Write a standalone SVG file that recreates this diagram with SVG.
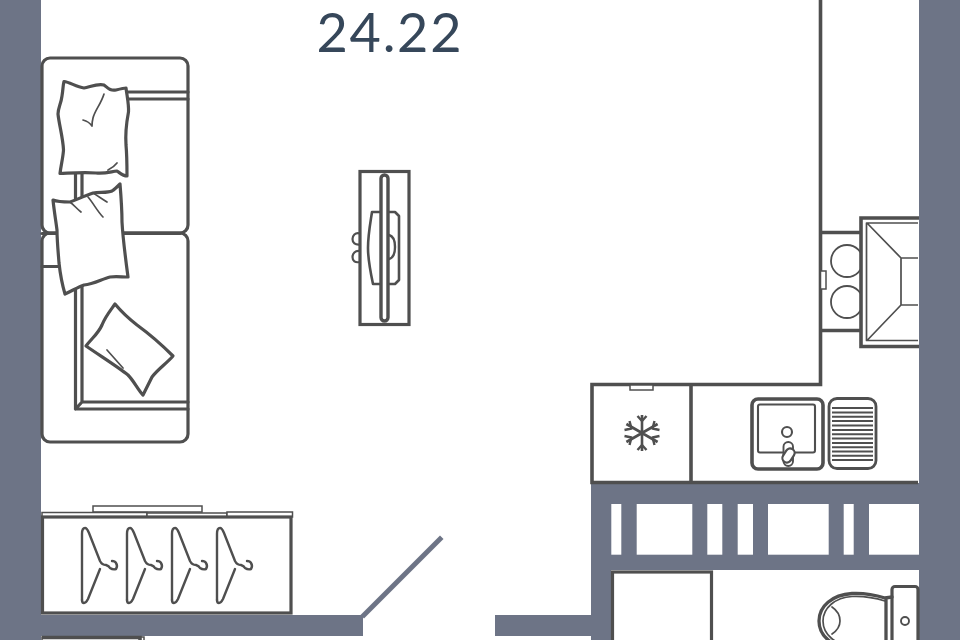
<svg xmlns="http://www.w3.org/2000/svg" width="960" height="640" viewBox="0 0 960 640">
<defs>
<style>
.wall{fill:#6d7486}
.win{fill:#fff}
.l{fill:#fff;stroke:#4f4f4f;stroke-width:3.2;stroke-linejoin:round;stroke-linecap:round}
.n{fill:none;stroke:#4f4f4f;stroke-width:3.2;stroke-linejoin:round;stroke-linecap:round}
.t{fill:#fff;stroke:#4f4f4f;stroke-width:1.5}
.s{fill:none;stroke:#4f4f4f;stroke-width:1.7;stroke-linecap:round}
.b{fill:none;stroke:#4f4f4f;stroke-width:3.6;stroke-linecap:butt}
.num{font-family:"Lato","Liberation Sans",sans-serif;font-size:54px;font-weight:400;fill:#36475a}
</style>
<g id="hanger">
<path class="n" style="stroke-width:2.400" d="M82 600V534Q82 528 85 528Q87 528 89 533L100 561Q102 565 106 565Q109 566 110 568Q113 570 116 569Q118 566 116 563Q115 561 112 561"/>
<path class="n" style="stroke-width:2.400" d="M100 569L88 599Q86 603 84 603Q82 603 82 600"/>
</g>
</defs>
<rect width="960" height="640" fill="#fff"/>
<g id="walls">
<rect class="wall" x="0" y="0" width="41" height="640"/>
<rect class="wall" x="919" y="0" width="41" height="640"/>
<rect class="wall" x="41" y="615" width="322" height="21"/>
<rect class="wall" x="495" y="615" width="117" height="21"/>
<path class="wall" d="M591 483H919V570H611V640H591Z"/>
<path class="wall" d="M360.500 615L440 535.500L443.500 539L364 618.500Z"/>
<rect class="win" x="611.300" y="504" width="10" height="50.700"/>
<rect class="win" x="636.700" y="504" width="55.600" height="50.700"/>
<rect class="win" x="707.300" y="504" width="15" height="50.700"/>
<rect class="win" x="737.700" y="504" width="15.300" height="50.700"/>
<rect class="win" x="768" y="504" width="60.700" height="50.700"/>
<rect class="win" x="843.700" y="504" width="10" height="50.700"/>
<rect class="win" x="869" y="504" width="50" height="50.700"/>
</g>
<text class="num" x="389" y="52" text-anchor="middle" textLength="145" lengthAdjust="spacing">24.22</text>
<g id="kitchen-walls">
<path class="b" d="M820.500 0V384.500H592V482.500H918M691 384.500V482.500"/>
</g>
<g id="sofa">
<rect class="l" x="42" y="58" width="146" height="175" rx="8"/>
<rect class="l" x="42" y="233" width="146" height="209" rx="8"/>
<path class="n" d="M42 233.500H180"/>
<path class="n" d="M42 266.500H62M128 92H188M128 99H188M75.500 170V409H188M82 170V402H188M75.500 409L82 402"/>
<path class="l" d="M64 81.500C70 82 76 87 84 88C90 87 98 83 104 85C108 88 110 91 116 90C120 89 124 88 126 88C127 96 129 105 128.500 112C127 120 125 130 126 145C127 156 127 168 127 176C123 176 120 173 117 171C110 172 104 174 96 173C84 172 72 173 60 173.500C61 165 63 158 63.500 150C63 138 59 124 58 114C58 108 61 104 62 96C63 90 63 85 64 81.500Z"/>
<path class="s" d="M104 94C101 104 95 110 93 118C92 122 92 124 92 126M83 120C87 121 90 123 92 126"/>
<path class="s" d="M117 163C114 167 112 168 108 170"/>
<path class="l" d="M53 200C58 202 64 202 70 202C76 200 84 196 93 193C100 192 108 193 112 191C115 189 118 186 120 184C121 196 122 210 122 222C123 240 126 262 128 277C122 277 116 276 110 277C102 279 94 284 84 285C78 287 72 291 65 294C62 284 60 272 59 263C58 250 57 240 57 230C56 222 54 210 53 200Z"/>
<path class="s" d="M70 202C74 205 77 209 81 212M88 197C94 204 97 211 103 217M93 193C98 196 102 199 107 202"/>
<path class="l" d="M115 304C120 310 128 318 137 325C148 333 162 345 173 356C166 364 158 369 152 377C149 383 146 389 143 395C138 390 134 381 128 375C118 367 102 357 86 346C92 338 98 334 102 325C105 317 110 311 115 304Z"/>
<path class="s" d="M107 350L123 368"/>
</g>
<g id="chair">
<path class="n" style="stroke-width:2.200" d="M360 233.500C355 232 352.500 236 352.500 239C352.500 243 355 245 360 244.500M360 251C355 250 352.500 254 352.500 257C352.500 261 355 263 360 262"/>
<rect class="l" x="360" y="171.500" width="49" height="153" style="stroke-linejoin:miter"/>
<path class="l" d="M372 212H395L399 216V280L395 284H373C370 270 368 258 368 248C368 235 370 225 372 212Z" style="stroke-width:2.600"/>
<path class="n" style="stroke-width:2.400" d="M389 235C393 236 395 241 395 247C395 253 393 258 389 259"/>
<rect class="l" x="381" y="175" width="7" height="146" rx="3.500" style="stroke-width:3.400"/>
</g>
<g id="stove">
<path class="b" d="M820 232.500H860M820 330.500H860"/>
<circle class="n" cx="847" cy="261" r="16" style="stroke-width:1.800"/>
<circle class="n" cx="847" cy="302" r="16" style="stroke-width:1.800"/>
<rect class="t" x="820.500" y="271" width="5.500" height="18"/>
<path d="M861 218H917V347H861Z" fill="#fff"/>
<path class="b" d="M919 218H861V346.500H919"/>
<path class="n" style="stroke-width:1.700;stroke-linecap:butt" d="M918 223H866.500V340.500H918M867 223L901 258H918M867 340.500L901 305H918M901 258V305"/>
</g>
<g id="fridge">
<rect class="t" x="630" y="385" width="23" height="5"/>
<path class="n" style="stroke-width:2.600;stroke-linecap:butt" d="M642 415V451M626.400 424L657.600 442M626.400 442L657.600 424"/>
<path class="n" style="stroke-width:2.400;stroke-linecap:butt" d="M637.500 416L642 421L646.500 416M637.500 450L642 445L646.500 450M624.500 430L631.500 428.500L629.500 421M659.500 436L652.500 437.500L654.500 445M624.500 436L631.500 437.500L629.500 445M659.500 430L652.500 428.500L654.500 421"/>
</g>
<g id="sink">
<rect class="n" x="752" y="399" width="71" height="70" rx="6" style="stroke-width:3.600"/>
<rect class="n" x="758" y="404.500" width="57" height="48" rx="2" style="stroke-width:2.100"/>
<circle class="n" cx="787" cy="432" r="5" style="stroke-width:2.100"/>
<rect class="l" x="783.500" y="442" width="9.500" height="24" rx="4.700" style="stroke-width:1.900"/>
<rect class="l" x="781" y="451" width="15" height="9" rx="4.500" transform="rotate(-58 788.500 455.500)" style="stroke-width:2.200"/>
<rect class="n" x="829" y="398.500" width="47" height="70" rx="8" style="stroke-width:2.800"/>
<path class="n" style="stroke-width:1.900;stroke-linecap:butt" d="M832 408H873M832 412.500H873M832 416.800H873M832 421H873M832 425.500H873M832 430H873M832 434.300H873M832 438.500H873M832 443H873M832 447.300H873M832 451.500H873M832 455.800H873M832 460H873"/>
</g>
<g id="wardrobe">
<rect class="t" x="93" y="506" width="109" height="6"/>
<rect class="t" x="42" y="512.500" width="105" height="5"/>
<rect class="t" x="147" y="513" width="80" height="4"/>
<rect class="t" x="227" y="512" width="65.500" height="5"/>
<rect class="l" x="42.500" y="517" width="248.500" height="96" style="stroke-linejoin:miter"/>
<use href="#hanger"/>
<use href="#hanger" x="45"/>
<use href="#hanger" x="90"/>
<use href="#hanger" x="135"/>
</g>
<g id="box-bottom-left">
<rect class="t" x="42" y="637" width="102" height="8"/>
<path class="b" d="M42 637.500H140V640"/>
</g>
<g id="bath-cabinet">
<rect class="l" x="612.500" y="572" width="99" height="80" style="stroke-linejoin:miter"/>
</g>
<g id="toilet">
<rect class="l" x="892" y="586.500" width="26" height="70" rx="3"/>
<circle class="n" cx="905" cy="621" r="4" style="stroke-width:1.900"/>
<path class="l" d="M892 597L885 598C872 594 862 593 852 593.500C832 595 819 606 819 621C819 636 832 647 852 648.500L886 648V598" style="stroke-width:3.300"/>
<path class="n" d="M885 601C872 597 862 596 852 596.500C835 597.500 823 608 823 621C823 634 835 645 852 646" style="stroke-width:1.700"/>
<path class="n" d="M832 607C838 611 840 616 840 621C840 626 838 630 832 634" style="stroke-width:1.700"/>
</g>
</svg>
